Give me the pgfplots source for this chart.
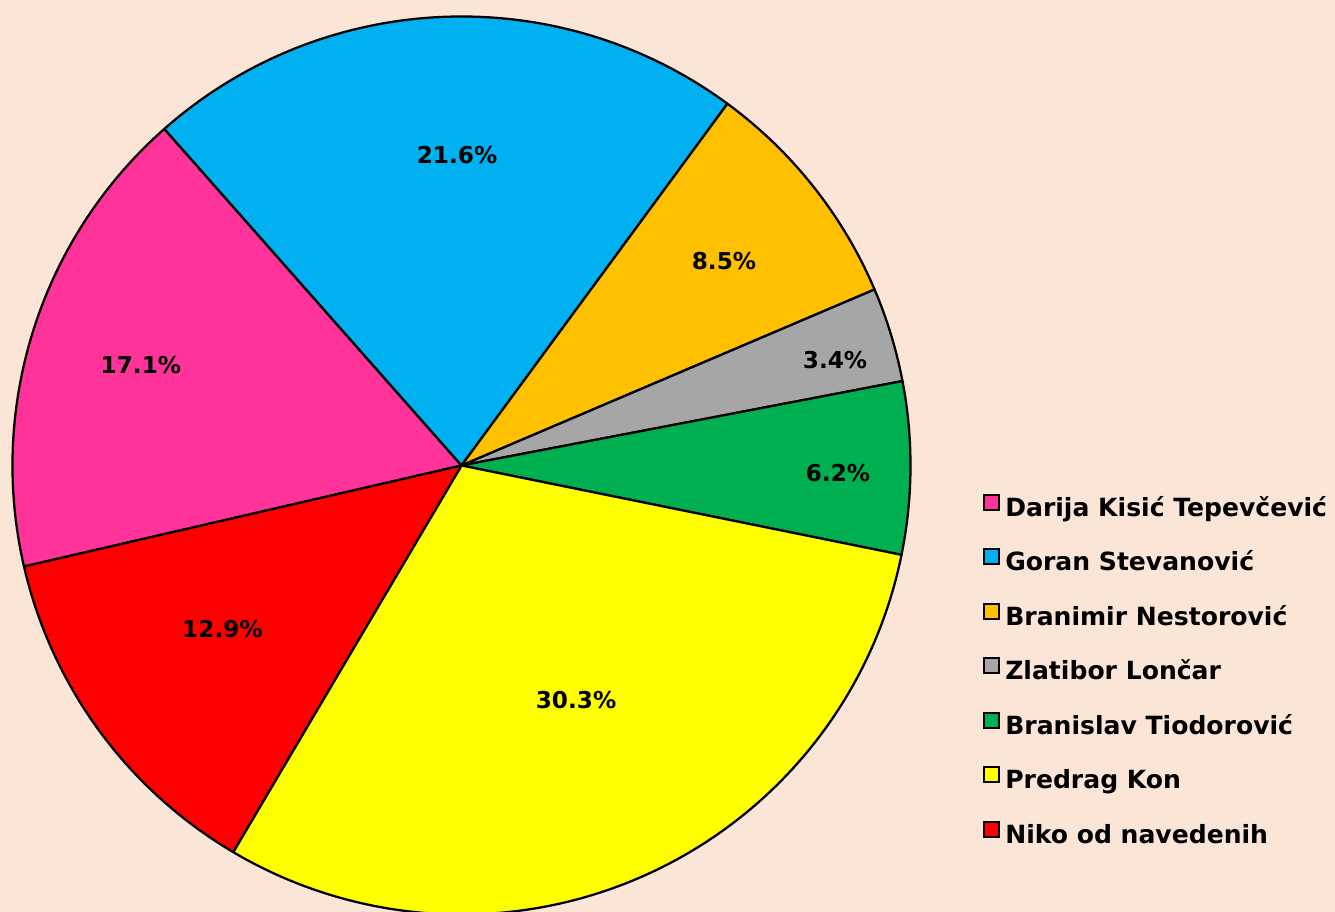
\documentclass[border=0pt]{standalone}
\usepackage{fontspec}
\setmainfont{DejaVu Sans}
\usepackage{pgfplots}
\usepackage{pgfplotstable}
\pgfplotsset{compat=1.18}
\definecolor{bg}{HTML}{FBE5D6}
\definecolor{cpink}{HTML}{FF3399}
\definecolor{cblue}{HTML}{00B0F0}
\definecolor{corange}{HTML}{FFC000}
\definecolor{cgray}{HTML}{A6A6A6}
\definecolor{cgreen}{HTML}{00B050}
\definecolor{cyellow}{HTML}{FFFF00}
\definecolor{cred}{HTML}{FF0000}

% share (%), colour, label position (radius = 1)
\pgfplotstableread{
idx val col lx ly
0 17.1 cpink -0.714 0.223
1 21.6 cblue -0.010 0.6915
2 8.5 corange 0.5846 0.4555
3 3.4 cgray 0.8319 0.2350
4 6.2 cgreen 0.8385 -0.0167
5 30.3 cyellow 0.2550 -0.5223
6 12.9 cred -0.5323 -0.3641
}\piedata

\newcommand\R{336.75pt}
\gdef\cum{193}
\gdef\slicecmds{}
\gdef\labelcmds{}
\pgfplotsforeachungrouped \i in {0,...,6}{%
  \pgfplotstablegetelem{\i}{val}\of\piedata \let\myv\pgfplotsretval
  \pgfplotstablegetelem{\i}{col}\of\piedata \let\mycol\pgfplotsretval
  \pgfplotstablegetelem{\i}{lx}\of\piedata \let\mylx\pgfplotsretval
  \pgfplotstablegetelem{\i}{ly}\of\piedata \let\myly\pgfplotsretval
  \pgfmathsetmacro\mye{\cum-3.6*\myv}%
  \xdef\slicecmds{\unexpanded\expandafter{\slicecmds}
    \noexpand\filldraw[fill=\mycol,draw=black,line width=1.7pt,line join=round]
      (axis cs:0,0) -- (axis cs:{cos(\cum)},{sin(\cum)})
      arc[start angle=\cum,end angle=\mye,radius=\noexpand\R] -- cycle;}%
  \xdef\labelcmds{\unexpanded\expandafter{\labelcmds}
    \noexpand\node[font=\noexpand\fontsize{17.4}{20}\noexpand\selectfont\noexpand\bfseries,inner sep=0pt]
      at (axis cs:\mylx,\myly) {\myv\noexpand\%};}%
  \xdef\cum{\mye}%
}

\begin{document}
\begin{tikzpicture}
\begin{axis}[
  x=336.75pt, y=336.75pt,
  xmin=-1.0278, xmax=1.9454, ymin=-0.9944, ymax=1.0367,
  hide axis, clip=true,
  legend image code/.code={\draw[#1,line width=1.5pt] (0pt,0.4pt) rectangle (11.2pt,11.6pt);},
  legend style={at={(axis cs:1.1615,-0.0635)}, anchor=north west,
    draw=none, fill=none, inner sep=0pt, outer sep=0pt,
    font=\fontsize{18.8}{22}\selectfont\bfseries,
    nodes={inner sep=0pt, text height=13pt, text depth=4pt, anchor=west},
    row sep=20pt, column sep=4pt},
  legend cell align=left,
]
\fill[bg] (rel axis cs:0,0) rectangle (rel axis cs:1,1);
\slicecmds
\labelcmds
\addlegendimage{fill=cpink,draw=black}\addlegendentry{Darija Kisić Tepevčević}
\addlegendimage{fill=cblue,draw=black}\addlegendentry{Goran Stevanović}
\addlegendimage{fill=corange,draw=black}\addlegendentry{Branimir Nestorović}
\addlegendimage{fill=cgray,draw=black}\addlegendentry{Zlatibor Lončar}
\addlegendimage{fill=cgreen,draw=black}\addlegendentry{Branislav Tiodorović}
\addlegendimage{fill=cyellow,draw=black}\addlegendentry{Predrag Kon}
\addlegendimage{fill=cred,draw=black}\addlegendentry{Niko od navedenih}
\end{axis}
\end{tikzpicture}
\end{document}
